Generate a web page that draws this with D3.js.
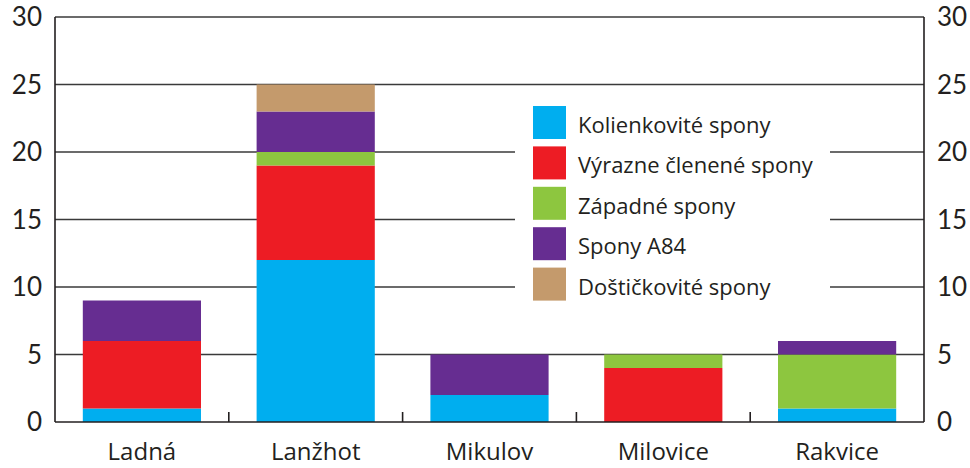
<!DOCTYPE html>
<html>
<head>
<meta charset="utf-8">
<script src="https://cdn.jsdelivr.net/npm/d3@7"></script>
<style>
  html, body { margin: 0; padding: 0; background: #fff; }
  svg { display: block; }
  text { font-family: Lato, "Open Sans", sans-serif; fill: #231f20; }
  text.lbl { font-family: "Open Sans", Lato, sans-serif; }
</style>
</head>
<body>
<svg id="chart" width="970" height="468"></svg>
<script>
const categories = ["Ladná", "Lanžhot", "Mikulov", "Milovice", "Rakvice"];
const seriesNames = ["Kolienkovité spony", "Výrazne členené spony", "Západné spony", "Spony A84", "Doštičkovité spony"];
const seriesColors = ["#00aeef", "#ed1c24", "#8dc63f", "#662d91", "#c49a6c"];
const kolienkovite = [1, 12, 2, 0, 1];
const vyrazneClenene = [5, 7, 0, 4, 0];
const zapadne = [0, 1, 0, 1, 4];
const sponyA84 = [3, 3, 3, 0, 1];
const dostickovite = [0, 2, 0, 0, 0];
const yTicks = [0, 5, 10, 15, 20, 25, 30];

const seriesValues = [kolienkovite, vyrazneClenene, zapadne, sponyA84, dostickovite];
const table = categories.map((c, i) => {
  const row = { category: c };
  seriesNames.forEach((s, j) => row[s] = seriesValues[j][i]);
  return row;
});

const svg = d3.select("#chart");
const pLeft = 55, pRight = 924, pTop = 17, pBottom = 422;

const x = d3.scaleBand().domain(categories).range([pLeft, pRight]).paddingInner(0.32).paddingOuter(0.16);
const xb = d3.scaleBand().domain(categories).range([pLeft, pRight]);
const y = d3.scaleLinear().domain([0, 30]).range([pBottom, pTop]);

// gridlines
svg.append("g").selectAll("line").data(yTicks.filter(t => t > 0)).join("line")
  .attr("x1", pLeft).attr("x2", pRight)
  .attr("y1", d => y(d)).attr("y2", d => y(d))
  .attr("stroke", "#3a3a3a").attr("stroke-width", 1.4);

// stacked bars
const stack = d3.stack().keys(seriesNames)(table);
svg.append("g").selectAll("g").data(stack).join("g")
  .attr("fill", (d, i) => seriesColors[i])
  .selectAll("rect").data(d => d).join("rect")
  .attr("x", d => x(d.data.category))
  .attr("width", x.bandwidth())
  .attr("y", d => y(d[1]))
  .attr("height", d => y(d[0]) - y(d[1]));

// axes frame
const axisColor = "#231f20";
svg.append("line").attr("x1", pLeft).attr("x2", pLeft).attr("y1", pTop).attr("y2", pBottom)
  .attr("stroke", axisColor).attr("stroke-width", 1.6);
svg.append("line").attr("x1", pRight).attr("x2", pRight).attr("y1", pTop).attr("y2", pBottom)
  .attr("stroke", axisColor).attr("stroke-width", 1.6);
svg.append("line").attr("x1", pLeft).attr("x2", pRight).attr("y1", pBottom).attr("y2", pBottom)
  .attr("stroke", axisColor).attr("stroke-width", 1.6);

// category boundary ticks
const bounds = categories.slice(1).map(c => xb(c));
svg.append("g").selectAll("line").data(bounds).join("line")
  .attr("x1", d => d).attr("x2", d => d)
  .attr("y1", pBottom).attr("y2", pBottom - 10)
  .attr("stroke", axisColor).attr("stroke-width", 1.6);

// y labels left & right
const yl = svg.append("g");
yl.selectAll("text.l").data(yTicks).join("text").attr("class", "l")
  .attr("x", 42).attr("y", d => y(d)).attr("dy", "0.35em")
  .attr("text-anchor", "end").attr("font-size", 26).text(d => d);
yl.selectAll("text.r").data(yTicks).join("text").attr("class", "r")
  .attr("x", 937).attr("y", d => y(d)).attr("dy", "0.35em")
  .attr("text-anchor", "start").attr("font-size", 26).text(d => d);

// x labels
svg.append("g").selectAll("text").data(categories).join("text")
  .attr("class", "lbl")
  .attr("x", d => xb(d) + xb.bandwidth() / 2).attr("y", 460)
  .attr("text-anchor", "middle").attr("font-size", 24).text(d => d);

// legend
const lg = svg.append("g");
lg.append("rect").attr("x", 515).attr("y", 96).attr("width", 315).attr("height", 208).attr("fill", "#fff");
const items = lg.selectAll("g").data(seriesNames).join("g")
  .attr("transform", (d, i) => `translate(533, ${106 + i * 40.4})`);
items.append("rect").attr("width", 33).attr("height", 33).attr("fill", (d, i) => seriesColors[i]);
items.append("text").attr("class", "lbl").attr("x", 45).attr("y", 27)
  .attr("font-size", 22).text(d => d);
</script>
</body>
</html>
